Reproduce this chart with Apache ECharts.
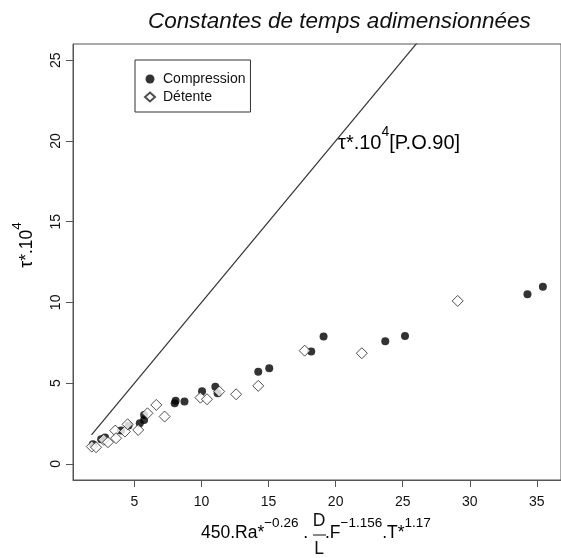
<!DOCTYPE html>
<html>
<head>
<meta charset="utf-8">
<script src="https://cdn.jsdelivr.net/npm/echarts@6/dist/echarts.min.js"></script>
<style>
  html, body { margin: 0; padding: 0; background: #fff; }
  #chart { width: 561px; height: 558px; }
</style>
</head>
<body>
<div id="chart"></div>
<script>
// values
var compression = [
    [1.90, 1.22], [2.52, 1.53], [2.81, 1.63], [4.00, 2.06], [4.56, 2.37],
    [5.40, 2.52], [5.72, 2.72], [5.72, 3.03], [8.00, 3.75], [8.07, 3.90],
    [8.73, 3.86], [10.04, 4.50], [11.03, 4.78], [11.20, 4.37], [14.23, 5.71],
    [15.05, 5.92], [18.18, 6.95], [19.10, 7.88], [23.70, 7.60], [25.17, 7.92],
    [34.30, 10.50], [35.45, 10.97]
];
var detente = [
    [1.82, 1.07], [2.14, 1.03], [2.71, 1.49], [3.03, 1.34], [3.57, 2.06],
    [3.63, 1.59], [4.29, 2.00], [4.49, 2.45], [5.28, 2.10], [5.97, 3.13],
    [6.63, 3.65], [7.25, 2.93], [9.92, 4.10], [10.41, 4.00], [11.32, 4.48],
    [12.58, 4.31], [14.23, 4.83], [17.69, 7.01], [21.95, 6.85], [29.10, 10.09]
];
var po90 = [[1.8, 1.8], [26.2, 26.2]];
var xTicks = [5, 10, 15, 20, 25, 30, 35];
var yTicks = [0, 5, 10, 15, 20, 25];

var axisColor = '#555';
var font = 'Liberation Sans, Arial, sans-serif';

var supRich = {
    n: { fontSize: 17.5, lineHeight: 34, fontFamily: font, color: '#111' },
    s: { fontSize: 13.5, fontFamily: font, color: '#111', verticalAlign: 'top' }
};

var option = {
    backgroundColor: '#fff',
    animation: false,
    title: {
        text: 'Constantes de temps adimensionnées',
        left: 143,
        top: 5,
        textStyle: {
            fontFamily: font,
            fontStyle: 'italic',
            fontWeight: 'normal',
            fontSize: 22.5,
            color: '#111'
        }
    },
    legend: {
        orient: 'vertical',
        left: 135,
        top: 60,
        padding: [12, 5, 8, 9],
        borderColor: '#333',
        borderWidth: 1,
        itemWidth: 10,
        itemHeight: 9,
        itemGap: 4,
        data: ['Compression', 'Détente'],
        textStyle: { fontFamily: font, fontSize: 14, color: '#111', padding: [0, 0, 0, 3] }
    },
    grid: {
        left: 73,
        top: 44,
        width: 492,
        height: 436,
        show: true,
        borderColor: axisColor,
        borderWidth: 1
    },
    xAxis: {
        type: 'value',
        min: 0.42,
        max: 36.8,
        splitLine: { show: false },
        axisLine: { show: true, onZero: false, lineStyle: { color: axisColor } },
        axisTick: { show: true, length: 7, customValues: xTicks, lineStyle: { color: axisColor } },
        axisLabel: { customValues: xTicks, margin: 15, fontFamily: font, fontSize: 14, color: '#111' }
    },
    yAxis: {
        type: 'value',
        min: -1,
        max: 26,
        splitLine: { show: false },
        axisLine: { show: true, onZero: false, lineStyle: { color: axisColor } },
        axisTick: { show: true, length: 7, customValues: yTicks, lineStyle: { color: axisColor } },
        axisLabel: { customValues: yTicks, rotate: 90, margin: 10, fontFamily: font, fontSize: 14, color: '#111' }
    },
    graphic: [
        {
            type: 'text',
            x: 27, y: 245,
            rotation: Math.PI / 2,
            style: {
                text: '{n|τ*.10}{s|4}',
                rich: supRich,
                align: 'center',
                verticalAlign: 'middle'
            }
        },
        {
            type: 'text',
            x: 338, y: 143,
            style: {
                text: '{n|τ*.10}{s|4}{n|[P.O.90]}',
                rich: {
                    n: { fontSize: 20, lineHeight: 36, fontFamily: font, color: '#111' },
                    s: { fontSize: 14, fontFamily: font, color: '#111', verticalAlign: 'top' }
                },
                align: 'left',
                verticalAlign: 'middle'
            }
        },
        {
            type: 'text',
            x: 201, y: 533,
            style: { text: '{n|450.Ra*}{s|−0.26}{n| .}', rich: supRich, align: 'left', verticalAlign: 'middle' }
        },
        {
            type: 'text',
            x: 319, y: 521,
            style: { text: 'D', fontSize: 17.5, fontFamily: font, fill: '#111', align: 'center', verticalAlign: 'middle' }
        },
        {
            type: 'line',
            shape: { x1: 313, y1: 535, x2: 326, y2: 535 },
            style: { stroke: '#111', lineWidth: 1 }
        },
        {
            type: 'text',
            x: 319, y: 549,
            style: { text: 'L', fontSize: 17.5, fontFamily: font, fill: '#111', align: 'center', verticalAlign: 'middle' }
        },
        {
            type: 'text',
            x: 325, y: 533,
            style: { text: '{n|.F}{s|−1.156}{n|.T*}{s|1.17}', rich: supRich, align: 'left', verticalAlign: 'middle' }
        }
    ],
    series: [
        {
            name: 'P.O.90',
            type: 'line',
            data: po90,
            showSymbol: false,
            clip: true,
            lineStyle: { color: '#333', width: 1.2 },
            silent: true
        },
        {
            name: 'Compression',
            type: 'scatter',
            data: compression,
            symbol: 'circle',
            symbolSize: 8,
            itemStyle: { color: '#000' }
        },
        {
            name: 'Détente',
            type: 'scatter',
            data: detente,
            symbol: 'diamond',
            symbolSize: 11,
            itemStyle: { color: '#fff', borderColor: '#222', borderWidth: 1 }
        }
    ]
};

var myChart = echarts.init(document.getElementById('chart'));
myChart.setOption(option);
</script>
</body>
</html>
